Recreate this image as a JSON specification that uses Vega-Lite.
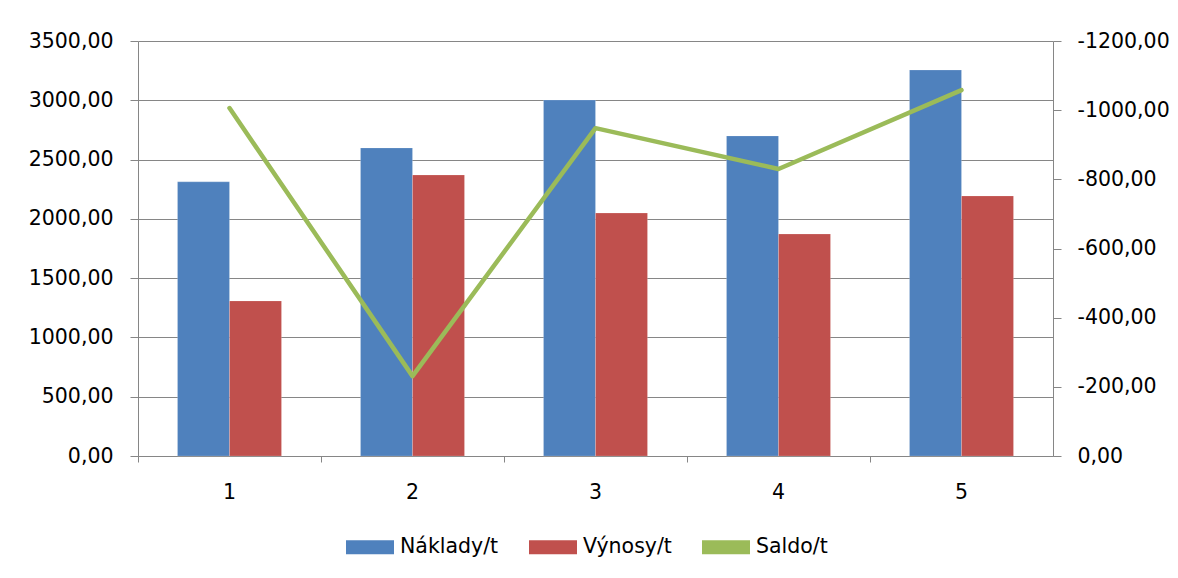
{
  "$schema": "https://vega.github.io/schema/vega-lite/v6.json",
  "width": 915,
  "height": 415,
  "autosize": "none",
  "padding": {"left": 138, "top": 41, "right": 125, "bottom": 122},
  "config": {
    "locale": {"number": {"decimal": ",", "thousands": " ", "grouping": [3], "currency": ["", ""], "minus": "-"}},
    "view": {"stroke": null},
    "font": "DejaVu Sans",
    "axis": {"labelFont": "DejaVu Sans", "labelFontSize": 20.5, "labelColor": "#000000", "domainColor": "#868686", "tickColor": "#868686", "gridColor": "#868686", "domainWidth": 1, "tickWidth": 1, "gridWidth": 1, "tickSize": 8, "title": null},
    "legend": {"labelFont": "DejaVu Sans", "labelFontSize": 20.5, "labelColor": "#000000"}
  },
  "data": {
    "values": [
      {"cat": "1", "series": "Náklady/t", "value": 2312},
      {"cat": "1", "series": "Výnosy/t", "value": 1308},
      {"cat": "1", "series": "Saldo/t", "value": -1006},
      {"cat": "2", "series": "Náklady/t", "value": 2598},
      {"cat": "2", "series": "Výnosy/t", "value": 2370},
      {"cat": "2", "series": "Saldo/t", "value": -231},
      {"cat": "3", "series": "Náklady/t", "value": 3002},
      {"cat": "3", "series": "Výnosy/t", "value": 2049},
      {"cat": "3", "series": "Saldo/t", "value": -948},
      {"cat": "4", "series": "Náklady/t", "value": 2699},
      {"cat": "4", "series": "Výnosy/t", "value": 1872},
      {"cat": "4", "series": "Saldo/t", "value": -830},
      {"cat": "5", "series": "Náklady/t", "value": 3255},
      {"cat": "5", "series": "Výnosy/t", "value": 2193},
      {"cat": "5", "series": "Saldo/t", "value": -1058}
    ]
  },
  "encoding": {
    "x": {
      "field": "cat",
      "type": "nominal",
      "scale": {"paddingInner": 0, "paddingOuter": 0},
      "axis": {"labelAngle": 0, "bandPosition": 0, "tickSize": 6, "labelPadding": 20, "domain": true, "grid": false}
    }
  },
  "layer": [
    {
      "transform": [{"filter": "datum.series !== 'Saldo/t'"}],
      "mark": {"type": "bar", "stroke": "#ffffff", "strokeOpacity": 0.35, "strokeWidth": 0.5},
      "encoding": {
        "xOffset": {"field": "series", "type": "nominal", "sort": ["Náklady/t", "Výnosy/t"], "scale": {"paddingOuter": 0.76, "paddingInner": 0}},
        "y": {
          "field": "value",
          "type": "quantitative",
          "scale": {"domain": [0, 3500], "nice": false},
          "axis": {"values": [0, 500, 1000, 1500, 2000, 2500, 3000, 3500], "format": ".2f", "grid": true, "labelPadding": 17, "orient": "left"}
        },
        "color": {
          "field": "series",
          "type": "nominal",
          "scale": {"domain": ["Náklady/t", "Výnosy/t", "Saldo/t"], "range": ["#4F81BD", "#C0504D", "#9BBB59"]},
          "legend": {
            "title": null,
            "orient": "none",
            "direction": "horizontal",
            "legendX": 208,
            "legendY": 482,
            "padding": 0,
            "symbolSize": 2304,
            "symbolStrokeWidth": 0,
            "symbolOpacity": 1,
            "symbolType": "M-1,-0.29H1V0.29H-1Z",
            "labelOffset": 6,
            "columnPadding": 30,
            "encode": {
              "symbols": {
                "shape": {"value": {"expr": "datum.value === 'Saldo/t' ? 'M-1,-0.09H1V0.09H-1Z' : 'M-1,-0.29H1V0.29H-1Z'"}}
              }
            }
          }
        }
      }
    },
    {
      "transform": [{"filter": "datum.series === 'Saldo/t'"}],
      "mark": {"type": "line", "strokeWidth": 4.5, "strokeCap": "round", "strokeJoin": "round"},
      "encoding": {
        "y": {
          "field": "value",
          "type": "quantitative",
          "scale": {"domain": [-1200, 0], "reverse": true, "nice": false},
          "axis": {"values": [-1200, -1000, -800, -600, -400, -200, 0], "format": ".2f", "grid": false, "labelPadding": 16, "orient": "right"}
        },
        "color": {"field": "series", "type": "nominal"}
      }
    }
  ],
  "resolve": {"scale": {"y": "independent"}}
}
